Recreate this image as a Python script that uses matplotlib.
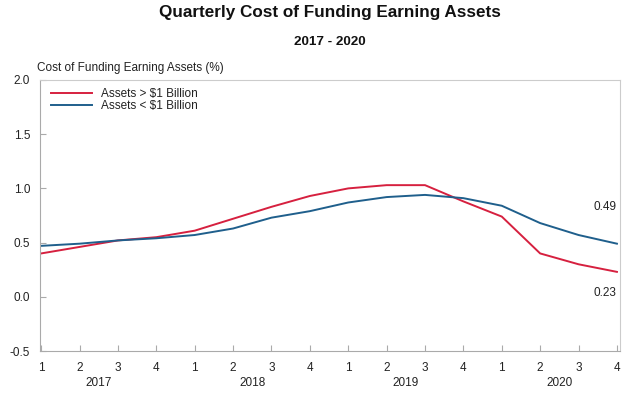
import matplotlib
matplotlib.use("Agg")
import matplotlib.pyplot as plt
import matplotlib.transforms as mtransforms
import numpy as np

plt.rcParams["font.family"] = ["Liberation Sans", "DejaVu Sans"]

years = ["2017", "2018", "2019", "2020"]
quarters = ["1", "2", "3", "4"]
large_banks = [0.40, 0.46, 0.52, 0.55, 0.61, 0.72, 0.83, 0.93,
               1.00, 1.03, 1.03, 0.88, 0.74, 0.40, 0.30, 0.23]
small_banks = [0.47, 0.49, 0.52, 0.54, 0.57, 0.63, 0.73, 0.79,
               0.87, 0.92, 0.94, 0.91, 0.84, 0.68, 0.57, 0.49]
series_labels = ["Assets > $1 Billion", "Assets < $1 Billion"]

red = "#d6203f"
blue = "#1f5f8c"
grey = "#aaaaaa"
text_col = "#222222"
fs = 8.5

W, H = 635, 394
fig = plt.figure(figsize=(W / 100, H / 100), dpi=100)
ax = fig.add_axes([40 / W, (H - 351) / H, 580 / W, (351 - 80) / H])

x = np.arange(len(large_banks))
ax.plot(x, large_banks, color=red, linewidth=1.4, label=series_labels[0])
ax.plot(x, small_banks, color=blue, linewidth=1.4, label=series_labels[1])

ax.set_xlim(-0.03, len(x) - 1 + 0.08)
ax.set_ylim(-0.5, 2.0)
ax.set_yticks([-0.5, 0.0, 0.5, 1.0, 1.5, 2.0])
ax.set_yticklabels(["-0.5", "0.0", "0.5", "1.0", "1.5", "2.0"])
ax.set_xticks(x)
ax.set_xticklabels(quarters * len(years))

for s in ax.spines.values():
    s.set_color("#cccccc")
    s.set_linewidth(0.8)
ax.spines["left"].set_color(grey)
ax.spines["bottom"].set_color(grey)

ax.tick_params(axis="both", direction="in", length=4, color=grey,
               labelsize=fs, labelcolor=text_col)
ax.tick_params(axis="x", pad=8)
ax.tick_params(axis="y", pad=7)

# year labels below quarter labels
trans = mtransforms.blended_transform_factory(ax.transData, ax.transAxes)
for i, yr in enumerate(years):
    ax.text(i * 4 + 1.5, -0.097, yr, transform=trans, ha="center", va="top",
            fontsize=fs, color=text_col)

# end value labels
ax.annotate(f"{small_banks[-1]:.2f}", (x[-1], small_banks[-1]), xytext=(-8.6, 26.6),
            textcoords="offset points", ha="center", va="center",
            fontsize=fs, color=text_col)
ax.annotate(f"{large_banks[-1]:.2f}", (x[-1], large_banks[-1]), xytext=(-8.6, -15),
            textcoords="offset points", ha="center", va="center",
            fontsize=fs, color=text_col)

leg = ax.legend(loc="upper left", frameon=False, fontsize=fs, handlelength=3.5,
                handletextpad=0.75, labelspacing=0.0, borderaxespad=0.3,
                bbox_to_anchor=(0.005, 1.0))
for t in leg.get_texts():
    t.set_color(text_col)

cx = (40 + 620) / 2 / W
fig.text(cx, 1 - 13 / H, "Quarterly Cost of Funding Earning Assets",
         ha="center", va="center", fontsize=12.3, fontweight="bold", color="#111111")
fig.text(cx, 1 - 42 / H, "2017 - 2020", ha="center", va="center",
         fontsize=9.7, fontweight="bold", color="#111111")
fig.text(37 / W, 1 - 68 / H, "Cost of Funding Earning Assets (%)", ha="left",
         va="center", fontsize=fs, color=text_col)

fig.savefig("out.png", dpi=100)
